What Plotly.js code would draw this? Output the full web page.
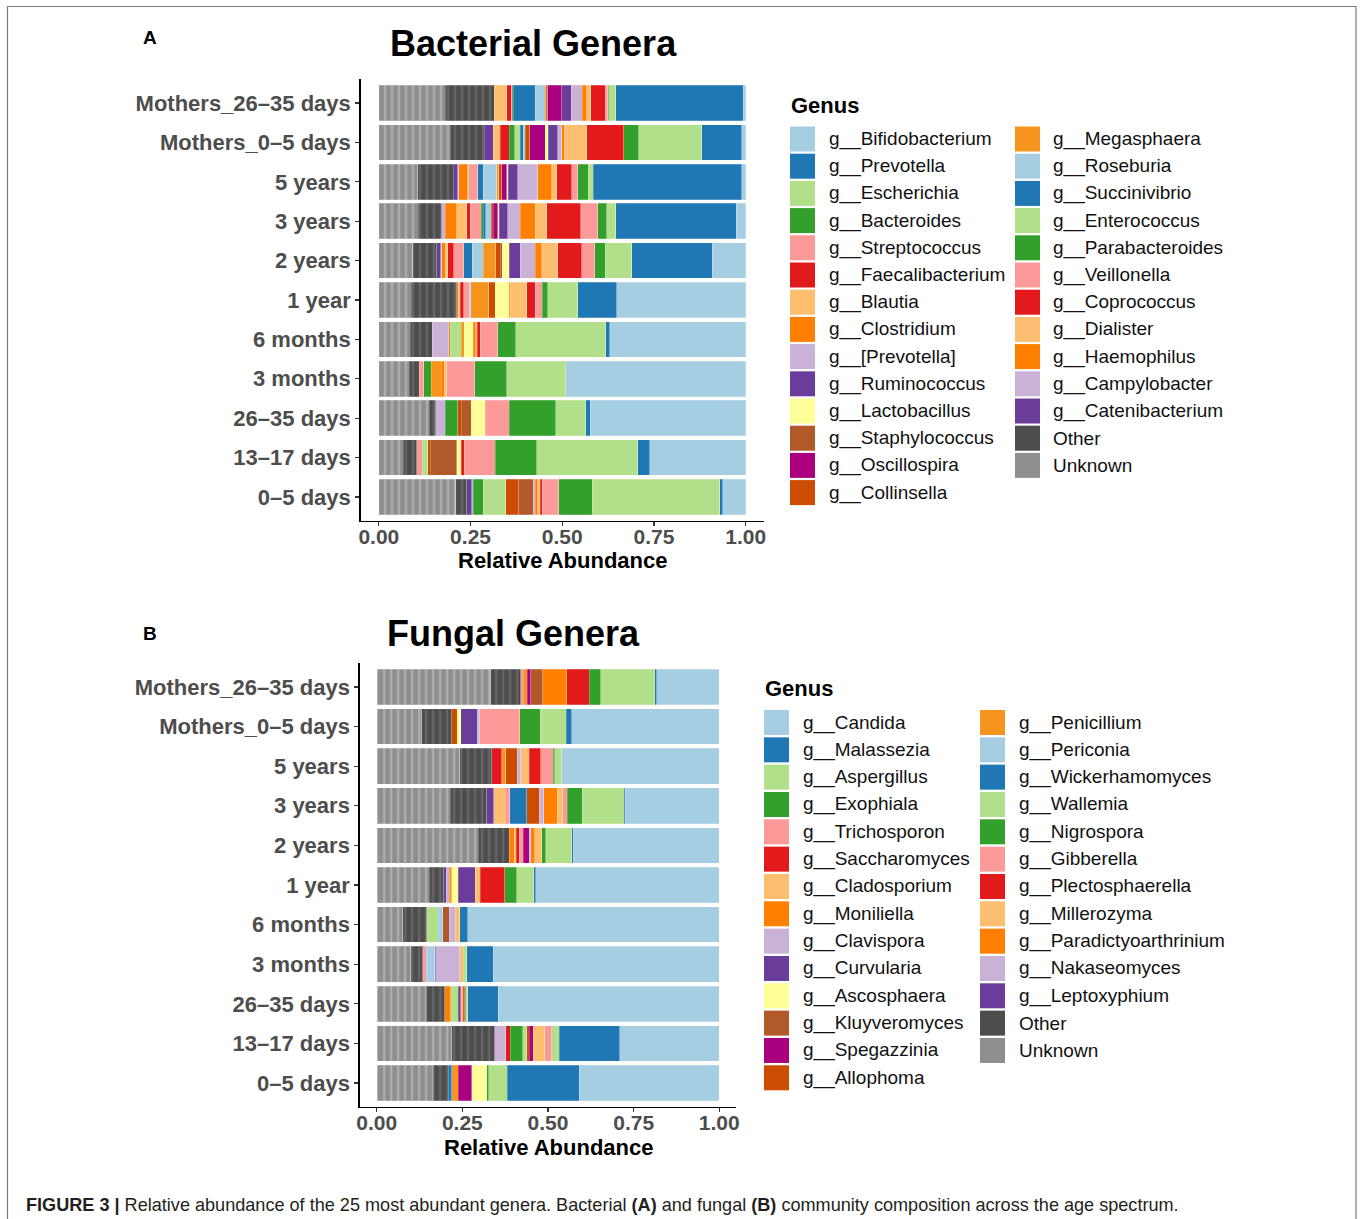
<!DOCTYPE html>
<html><head><meta charset="utf-8">
<script src="https://cdn.plot.ly/plotly-3.0.1.min.js"></script>
<style>html,body{margin:0;padding:0;background:#fff;} #chart{width:1360px;height:1219px;}</style>
</head><body><div id="chart"></div>
<script>
const W = 1360, H = 1219;
const FONT = "Liberation Sans, Arial, Helvetica, sans-serif";

// ---------- categories & ticks ----------
const categories = ["Mothers_26–35 days","Mothers_0–5 days","5 years","3 years","2 years","1 year","6 months","3 months","26–35 days","13–17 days","0–5 days"];
const xTickVals = [0, 0.25, 0.5, 0.75, 1];
const xTickText = ["0.00", "0.25", "0.50", "0.75", "1.00"];

// ---------- Bacterial genera (legend order) ----------
const bactGenera = ["g__Bifidobacterium","g__Prevotella","g__Escherichia","g__Bacteroides","g__Streptococcus","g__Faecalibacterium","g__Blautia","g__Clostridium","g__[Prevotella]","g__Ruminococcus","g__Lactobacillus","g__Staphylococcus","g__Oscillospira","g__Collinsella","g__Megasphaera","g__Roseburia","g__Succinivibrio","g__Enterococcus","g__Parabacteroides","g__Veillonella","g__Coprococcus","g__Dialister","g__Haemophilus","g__Campylobacter","g__Catenibacterium","Other","Unknown"];
const bactColors = ["#A6CEE3","#1F78B4","#B2DF8A","#33A02C","#FB9A99","#E31A1C","#FDBF6F","#FF7F00","#CAB2D6","#6A3D9A","#FFFF99","#B15928","#AA0080","#CC4C02","#F7941D","#A6CEE3","#1F78B4","#B2DF8A","#33A02C","#FB9A99","#E31A1C","#FDBF6F","#FF7F00","#CAB2D6","#6A3D9A","#4D4D4D","#8E8E8E"];

// values per genus, in category order (top to bottom)
const bBifidobacterium  = [0.006,0.011,0.011,0.025,0.091,0.351,0.370,0.490,0.424,0.261,0.063];
const bPrevotella       = [0.348,0.109,0.404,0.329,0.220,0.107,0.011,0,0.012,0.033,0.007];
const bEscherichia      = [0.019,0.171,0.014,0.025,0.072,0.082,0.246,0.161,0.082,0.275,0.348];
const bBacteroides      = [0.003,0.042,0.029,0.024,0.029,0.014,0.049,0.088,0.127,0.114,0.092];
const bStreptococcus    = [0.007,0,0.016,0.046,0.035,0.020,0.048,0.076,0.065,0.084,0.044];
const bFaecalibacterium = [0.039,0.100,0.041,0.093,0.065,0.023,0.008,0,0,0.009,0.006];
const bBlautia          = [0.011,0.062,0.014,0.032,0.044,0.045,0.004,0.007,0,0,0.007];
const bClostridium      = [0.012,0.006,0.038,0.041,0.018,0.003,0.006,0.008,0,0,0.006];
const bPrevotellaBr     = [0.030,0.011,0.054,0.034,0.041,0,0,0,0,0,0.006];
const bRuminococcus     = [0.026,0.026,0.026,0.023,0.030,0,0,0,0,0,0];
const bLactobacillus    = [0,0.009,0.004,0.004,0.018,0.038,0.025,0,0.038,0.011,0];
const bStaphylococcus   = [0,0,0,0,0.006,0,0,0,0.027,0.073,0.039];
const bOscillospira     = [0.039,0.041,0.014,0.012,0,0,0,0,0,0,0];
const bCollinsella      = [0.003,0.013,0.008,0.006,0.012,0.018,0,0,0.010,0.006,0.036];
const bMegasphaera      = [0.004,0,0.005,0,0.034,0.049,0.009,0.027,0,0,0];
const bRoseburia        = [0.027,0.006,0.037,0.014,0.030,0.004,0,0,0,0,0];
const bSuccinivibrio    = [0.060,0.008,0.015,0.007,0.024,0,0,0,0,0,0];
const bEnterococcus     = [0,0.015,0,0,0,0,0.029,0,0,0.015,0.061];
const bParabacteroides  = [0.002,0.015,0,0.006,0,0,0,0.021,0.034,0,0.028];
const bVeillonella      = [0.003,0,0.025,0.030,0.027,0.015,0,0.012,0,0.015,0];
const bCoprococcus      = [0.012,0.024,0,0.009,0.016,0.009,0,0,0,0,0];
const bDialister        = [0.034,0.019,0.002,0.027,0.007,0.005,0,0,0,0,0];
const bHaemophilus      = [0,0,0.025,0.032,0.010,0.004,0.005,0,0,0,0];
const bCampylobacter    = [0,0,0.003,0.009,0.002,0,0.044,0,0.026,0,0.004];
const bCatenibacterium  = [0,0.024,0.012,0,0.011,0,0,0,0,0,0.013];
const bOther            = [0.134,0.094,0.097,0.064,0.066,0.125,0.061,0.027,0.018,0.037,0.030];
const bUnknown          = [0.181,0.194,0.106,0.108,0.092,0.088,0.085,0.083,0.137,0.067,0.210];

// ---------- Fungal genera (legend order) ----------
const fungGenera = ["g__Candida","g__Malassezia","g__Aspergillus","g__Exophiala","g__Trichosporon","g__Saccharomyces","g__Cladosporium","g__Moniliella","g__Clavispora","g__Curvularia","g__Ascosphaera","g__Kluyveromyces","g__Spegazzinia","g__Allophoma","g__Penicillium","g__Periconia","g__Wickerhamomyces","g__Wallemia","g__Nigrospora","g__Gibberella","g__Plectosphaerella","g__Millerozyma","g__Paradictyoarthrinium","g__Nakaseomyces","g__Leptoxyphium","Other","Unknown"];
const fungColors = bactColors;

const fCandida       = [0.183,0.431,0.460,0.274,0.426,0.536,0.735,0.660,0.645,0.290,0.409];
const fMalassezia    = [0.005,0.016,0,0.004,0.005,0.005,0.022,0.077,0.089,0.177,0.210];
const fAspergillus   = [0.158,0.076,0.020,0.122,0.075,0.050,0,0.010,0.006,0.022,0.054];
const fExophiala     = [0.033,0.059,0.005,0.044,0.012,0.035,0,0,0.003,0,0.006];
const fTrichosporon  = [0,0.117,0.036,0.013,0,0,0,0,0,0.020,0];
const fSaccharomyces = [0.066,0,0.034,0,0,0.072,0,0,0.005,0,0];
const fCladosporium  = [0,0,0.025,0.016,0.020,0.015,0.014,0.010,0.007,0.034,0];
const fMoniliella    = [0.070,0,0,0.039,0.013,0,0,0,0,0,0];
const fClavispora    = [0,0.007,0.010,0.013,0.004,0,0.017,0.070,0,0,0];
const fCurvularia    = [0,0.049,0,0,0,0.049,0,0.003,0.007,0,0];
const fAscosphaera   = [0,0.010,0,0,0,0.019,0,0,0,0,0.044];
const fKluyveromyces = [0.035,0,0,0,0,0,0.019,0,0,0,0];
const fSpegazzinia   = [0.010,0,0,0,0.017,0,0,0,0,0.012,0.039];
const fAllophoma     = [0,0.016,0.033,0.037,0,0,0,0,0,0.007,0];
const fPenicillium   = [0.012,0,0.012,0,0,0.007,0,0,0,0,0.019];
const fPericonia     = [0,0,0,0,0,0,0.013,0.026,0,0,0];
const fWickerhamomyces = [0,0,0,0.049,0,0,0,0,0,0,0.010];
const fWallemia      = [0,0,0,0,0,0,0.034,0,0.022,0.012,0];
const fNigrospora    = [0,0,0,0,0,0,0,0,0,0.036,0];
const fGibberella    = [0.008,0,0,0.014,0.012,0,0,0.010,0,0,0];
const fPlectosphaerella = [0,0,0.029,0,0.008,0,0,0,0,0.013,0];
const fMillerozyma   = [0,0,0,0.033,0.007,0,0,0,0,0,0];
const fParadictyoarthrinium = [0,0,0,0,0.014,0,0,0,0.017,0,0];
const fNakaseomyces  = [0,0,0,0,0,0.009,0,0,0,0.032,0];
const fLeptoxyphium  = [0,0,0,0.021,0,0.007,0,0,0,0,0];
const fOther         = [0.087,0.088,0.093,0.107,0.090,0.042,0.070,0.035,0.055,0.126,0.044];
const fUnknown       = [0.333,0.131,0.243,0.214,0.297,0.154,0.076,0.099,0.144,0.219,0.165];

const bactSeries = [bBifidobacterium,bPrevotella,bEscherichia,bBacteroides,bStreptococcus,bFaecalibacterium,bBlautia,bClostridium,bPrevotellaBr,bRuminococcus,bLactobacillus,bStaphylococcus,bOscillospira,bCollinsella,bMegasphaera,bRoseburia,bSuccinivibrio,bEnterococcus,bParabacteroides,bVeillonella,bCoprococcus,bDialister,bHaemophilus,bCampylobacter,bCatenibacterium,bOther,bUnknown];
const fungSeries = [fCandida,fMalassezia,fAspergillus,fExophiala,fTrichosporon,fSaccharomyces,fCladosporium,fMoniliella,fClavispora,fCurvularia,fAscosphaera,fKluyveromyces,fSpegazzinia,fAllophoma,fPenicillium,fPericonia,fWickerhamomyces,fWallemia,fNigrospora,fGibberella,fPlectosphaerella,fMillerozyma,fParadictyoarthrinium,fNakaseomyces,fLeptoxyphium,fOther,fUnknown];

// ---------- helpers ----------
const px = x => x / W;
const py = y => 1 - y / H;

// light vertical striping for the many small OTUs pooled as Other / Unknown
const stripe = {Other: '#6e6e6e', Unknown: '#b8b8b8'};

const traces = [];
function addBars(names, colors, series, xa, ya) {
  for (let i = names.length - 1; i >= 0; i--) {
    const mk = {color: colors[i], line: {color: 'rgba(255,255,255,0.45)', width: 0.5}};
    if (stripe[names[i]]) mk.pattern = {shape: '|', fgcolor: stripe[names[i]], bgcolor: colors[i], fillmode: 'replace', size: 7, solidity: 0.25};
    traces.push({
      type: 'bar', orientation: 'h', name: names[i],
      y: categories, x: series[i].map(v => v === 0 ? null : v),
      xaxis: xa, yaxis: ya, width: 0.9, showlegend: false,
      marker: mk, hoverinfo: 'name+x'
    });
  }
}
addBars(bactGenera, bactColors, bactSeries, 'x', 'y');
addBars(fungGenera, fungColors, fungSeries, 'x2', 'y2');

function xAxis(domain, anchor) {
  return {
    domain: domain, anchor: anchor, range: [-0.05, 1.05], fixedrange: true,
    tickvals: xTickVals, ticktext: xTickText, ticks: 'outside', ticklen: 4, tickwidth: 1.2, tickcolor: '#333',
    ticklabelstandoff: -7,
    showline: true, linecolor: '#000', linewidth: 1.3, showgrid: false, zeroline: false,
    tickfont: {family: FONT, size: 21, color: '#4D4D4D', weight: 'bold'}
  };
}
function yAxis(domain, anchor) {
  return {
    domain: domain, anchor: anchor, type: 'category', categoryorder: 'array', categoryarray: categories,
    range: [10.6, -0.6], fixedrange: true, ticks: 'outside', ticklen: 4, tickwidth: 1.2, tickcolor: '#333',
    ticklabelstandoff: 0,
    showline: true, linecolor: '#000', linewidth: 1.3, showgrid: false, zeroline: false,
    tickfont: {family: FONT, size: 22, color: '#4D4D4D', weight: 'bold'}
  };
}

const shapes = [];
const annotations = [];

// figure border
shapes.push({type: 'rect', xref: 'paper', yref: 'paper', x0: px(7.5), x1: px(1356), y0: py(1230), y1: py(6.5),
  line: {color: '#7a7a7a', width: 1.2}, fillcolor: 'rgba(0,0,0,0)', layer: 'below'});

function text(t, x, y, size, opts) {
  annotations.push(Object.assign({
    text: t, xref: 'paper', yref: 'paper', x: px(x), y: py(y), showarrow: false,
    xanchor: 'left', yanchor: 'middle', font: {family: FONT, size: size, color: '#000'}
  }, opts || {}));
}

// panel titles and labels
text('<b>A</b>', 150, 38, 19, {xanchor: 'center'});
text('<b>Bacterial Genera</b>', 533, 43, 36, {xanchor: 'center'});
text('<b>B</b>', 150, 633, 19, {xanchor: 'center'});
text('<b>Fungal Genera</b>', 513, 633, 36, {xanchor: 'center'});
text('<b>Relative Abundance</b>', 562, 561, 22, {xanchor: 'center'});
text('<b>Relative Abundance</b>', 548, 1147, 22, {xanchor: 'center'});

// legends
function legend(names, colors, titleX, titleY, col1SwX, col1TxX, col2SwX, col2TxX, firstY, step) {
  text('<b>Genus</b>', titleX, titleY, 22);
  const n1 = 14;
  names.forEach((nm, i) => {
    const col = i < n1 ? 0 : 1;
    const row = i < n1 ? i : i - n1;
    const cy = firstY + row * step;
    const sx = col === 0 ? col1SwX : col2SwX;
    const tx = col === 0 ? col1TxX : col2TxX;
    shapes.push({type: 'rect', xref: 'paper', yref: 'paper', x0: px(sx), x1: px(sx + 25), y0: py(cy + 12.5), y1: py(cy - 12.5),
      line: {width: 0}, fillcolor: colors[i]});
    text(nm, tx, cy, 19, {font: {family: FONT, size: 19, color: '#111'}});
  });
}
legend(bactGenera, bactColors, 789, 105, 790, 827, 1015, 1051, 139, 27.2);
legend(fungGenera, fungColors, 763, 688, 764, 801, 980, 1017, 722.5, 27.33);

// caption
text('<b>FIGURE 3 |</b> Relative abundance of the 25 most abundant genera. Bacterial <b>(A)</b> and fungal <b>(B)</b> community composition across the age spectrum.',
  24, 1205, 18.1, {font: {family: FONT, size: 18.1, color: '#231f20'}});

const layout = {
  width: W, height: H, margin: {l: 0, r: 0, t: 0, b: 0},
  paper_bgcolor: '#fff', plot_bgcolor: '#fff', barmode: 'stack', bargap: 0.1,
  showlegend: false, font: {family: FONT},
  xaxis: xAxis([px(360.5), px(764)], 'y'),
  yaxis: yAxis([py(520.6), py(79.4)], 'x'),
  xaxis2: xAxis([px(359.6), px(736.4)], 'y2'),
  yaxis2: yAxis([py(1106.8), py(663.2)], 'x2'),
  shapes: shapes, annotations: annotations
};

Plotly.newPlot('chart', traces, layout, {displayModeBar: false, staticPlot: true});
</script>
</body></html>
